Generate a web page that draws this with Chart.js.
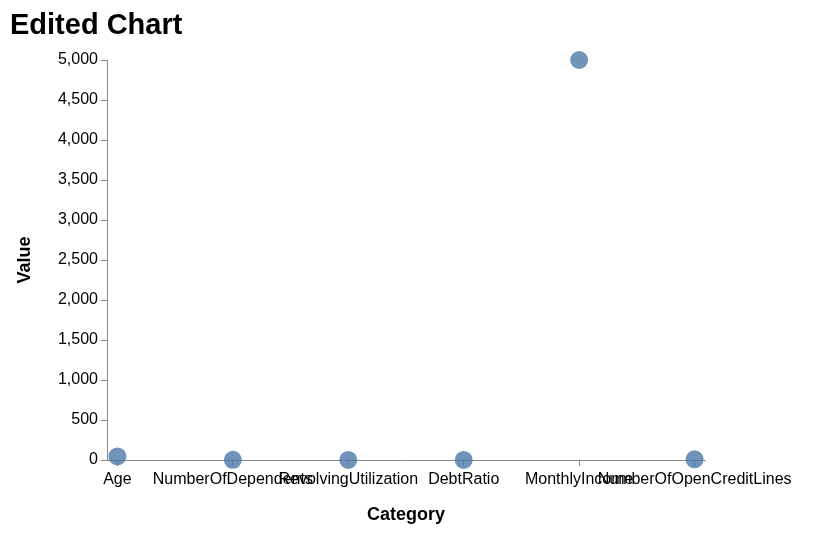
<!DOCTYPE html>
<html>
<head>
<script src="https://cdn.jsdelivr.net/npm/chart.js@4"></script>
<style>
  body { margin: 0; background: #fff; }
  #wrap { position: relative; width: 826px; height: 534px; }
  #title { position: absolute; left: 10px; top: 8px; font: bold 29px "Liberation Sans", Arial, sans-serif; color: #000; }
</style>
</head>
<body>
<div id="wrap">
  <div id="title">Edited Chart</div>
  <canvas id="c" width="826" height="534"></canvas>
</div>
<script>
const categories = ['Age', 'NumberOfDependents', 'RevolvingUtilization', 'DebtRatio', 'MonthlyIncome', 'NumberOfOpenCreditLines'];
const values = [45, 2, 0.5, 0.3, 5000, 8];

const font = "'Liberation Sans', Arial, sans-serif";
const axisColor = '#888';

new Chart(document.getElementById('c'), {
    type: 'scatter',
    data: {
        datasets: [{
            data: values.map((v, i) => ({ x: i, y: v })),
            backgroundColor: 'rgba(76, 120, 168, 0.8)',
            borderWidth: 0,
            pointRadius: 9,
            pointHoverRadius: 9,
            clip: false
        }]
    },
    options: {
        responsive: false,
        animation: false,
        layout: { padding: { left: 14, right: 121, top: 60, bottom: 8 } },
        plugins: { legend: { display: false }, tooltip: { enabled: false } },
        scales: {
            x: {
                type: 'linear',
                min: -0.09,
                max: 5.09,
                afterBuildTicks: s => { s.ticks = categories.map((c, i) => ({ value: i })); },
                afterFit: s => { s.height = 66; },
                grid: { display: true, drawOnChartArea: false, color: axisColor, tickLength: 6 },
                border: { color: axisColor },
                ticks: {
                    autoSkip: false, maxRotation: 0, color: '#000', padding: 4,
                    font: { family: font, size: 16 },
                    callback: v => categories[v]
                },
                title: { display: true, text: 'Category', color: '#000', font: { family: font, size: 18, weight: 'bold' }, padding: { top: 4, bottom: 0 } }
            },
            y: {
                min: 0,
                max: 5000,
                afterFit: s => { s.width = 93; },
                grid: { display: true, drawOnChartArea: false, color: axisColor, tickLength: 6 },
                border: { color: axisColor },
                ticks: {
                    stepSize: 500, color: '#000',
                    font: { family: font, size: 16 },
                    callback: v => v.toLocaleString('en-US')
                },
                title: { display: true, text: 'Value', color: '#000', font: { family: font, size: 18, weight: 'bold' }, padding: 0 }
            }
        }
    }
});
</script>
</body>
</html>
